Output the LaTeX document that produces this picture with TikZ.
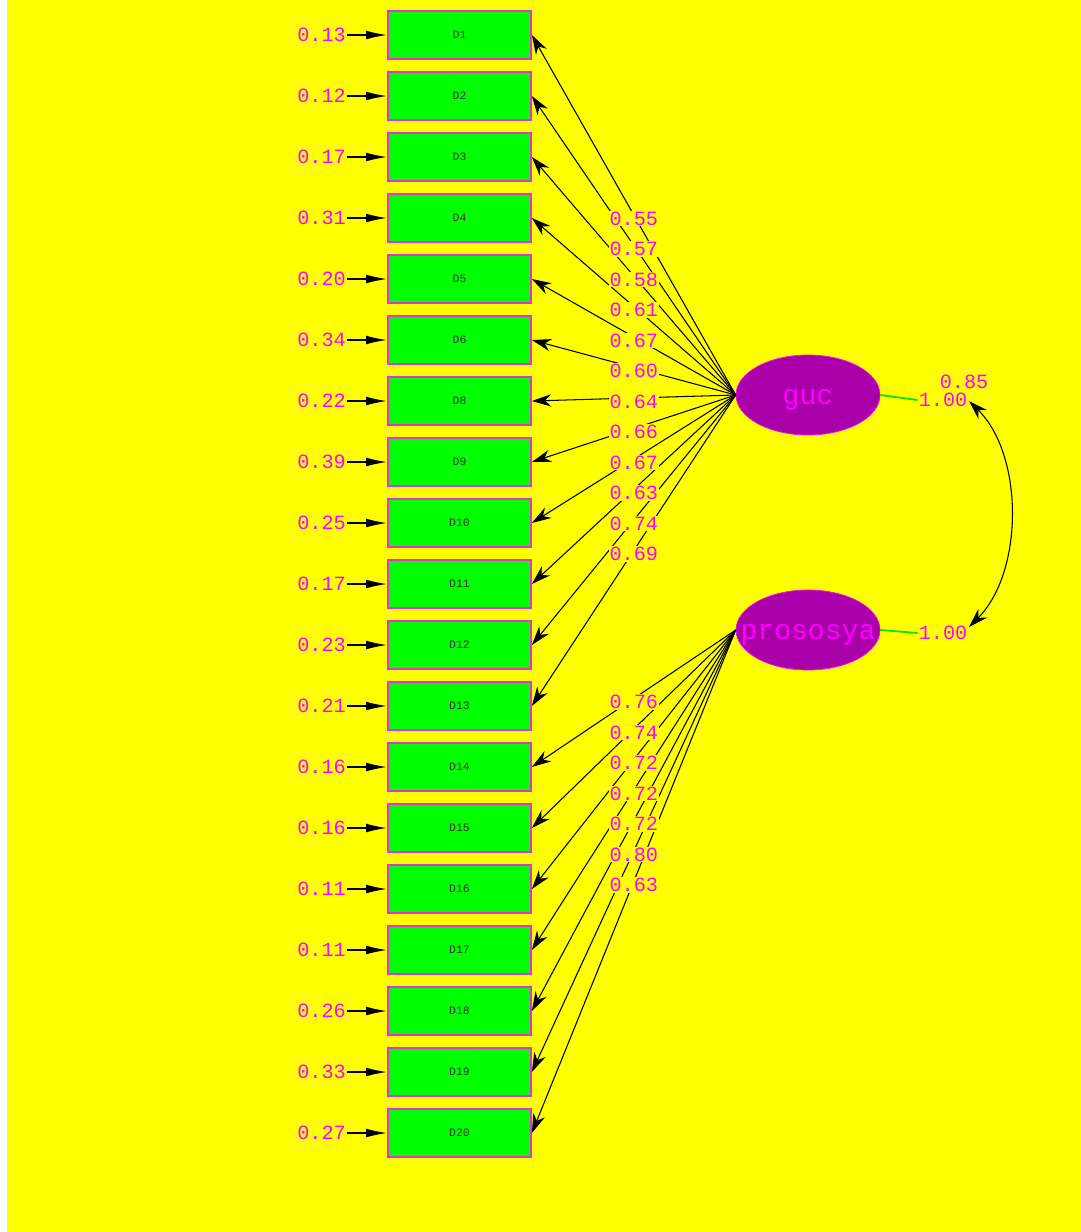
\documentclass[tikz,border=0pt]{standalone}
\usepackage{fontspec}
\usetikzlibrary{arrows.meta,shapes.geometric}
\newfontfamily\semfont{Liberation Mono}
\definecolor{bgyellow}{RGB}{255,255,0}
\definecolor{boxgreen}{RGB}{0,255,0}
\definecolor{boxedge}{RGB}{230,50,210}
\definecolor{latfill}{RGB}{170,0,170}
\definecolor{labpink}{RGB}{255,0,255}
\definecolor{vargreen}{RGB}{0,230,0}
\tikzset{
  obs/.style={draw=boxedge, line width=1pt, fill=boxgreen, minimum width=2.86cm,
    minimum height=0.96cm, inner sep=0pt, text=black!80,
    font=\semfont\fontsize{6.5}{7}\selectfont},
  lat/.style={ellipse, draw=labpink, fill=latfill, minimum width=2.88cm,
    minimum height=1.6cm, inner sep=0pt},
  est/.style={text=labpink, inner sep=0.5pt, font=\semfont\fontsize{11.5}{12}\selectfont},
  latname/.style={est, font=\semfont\fontsize{16}{16}\selectfont, yshift=-3pt},
  load/.style={-{Stealth[length=11pt,width=7pt]}, line width=0.6pt},
}
\begin{document}
\begin{tikzpicture}[x=0.02cm, y=-0.02cm]
  \useasboundingbox (0,0) rectangle (1081,1232);
  \fill[bgyellow] (7,0) rectangle (1081,1232);
  % latent variables
  \node[lat, label={[latname]center:guc}] (guc) at (808,395) {};
  \node[lat, label={[latname]center:prososya}] (pro) at (808,630) {};
  % indicators, error variances and loadings
  \foreach \i/\y/\e/\f in {1/35/0.13/guc, 2/96/0.12/guc, 3/157/0.17/guc, 4/218/0.31/guc,
      5/279/0.20/guc, 6/340/0.34/guc, 8/401/0.22/guc, 9/462/0.39/guc, 10/523/0.25/guc,
      11/584/0.17/guc, 12/645/0.23/guc, 13/706/0.21/guc, 14/767/0.16/pro, 15/828/0.16/pro,
      16/889/0.11/pro, 17/950/0.11/pro, 18/1011/0.26/pro, 19/1072/0.33/pro, 20/1133/0.27/pro}
  {
    \node[obs] (d\i) at (459.5,\y) {D\i};
    \node[est, anchor=east] (e\i) at (347,\y) {\e};
    \draw[-{Latex[length=12pt,width=5pt]}, line width=0.8pt] (e\i) -- (d\i);
    \draw[load] (\f.west) -- (d\i.east) coordinate[pos=0.5] (m\i);
  }
  \foreach \i/\l in {1/0.55, 2/0.57, 3/0.58, 4/0.61, 5/0.67, 6/0.60, 8/0.64, 9/0.66,
      10/0.67, 11/0.63, 12/0.74, 13/0.69, 14/0.76, 15/0.74, 16/0.72, 17/0.72, 18/0.72,
      19/0.80, 20/0.63}
    \node[est, fill=bgyellow, yshift=-2pt] (l\i) at (m\i) {\l};
  % latent variances and covariance
  \node[est] (vg) at (943,400) {1.00};
  \draw[vargreen, line width=1pt] (guc.east) -- (vg.west);
  \node[est, fill=bgyellow] (cov) at (964,382) {0.85};
  \node[est] (vp) at (943,633) {1.00};
  \draw[vargreen, line width=1pt] (pro.east) -- (vp.west);
  \coordinate (ct) at (969,401);
  \coordinate (cb) at (969,627);
  \draw[{Stealth[length=11pt,width=7pt]}-{Stealth[length=11pt,width=7pt]}, line width=0.6pt]
    (ct) .. controls (1024,455) and (1024,572) .. (cb);
\end{tikzpicture}
\end{document}
